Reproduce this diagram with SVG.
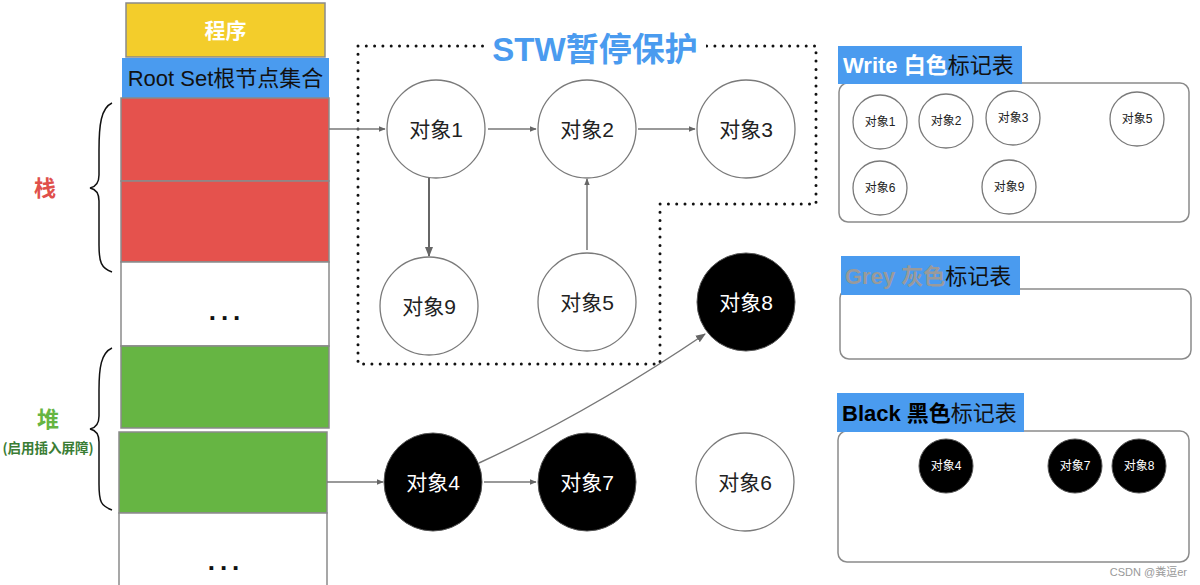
<svg xmlns="http://www.w3.org/2000/svg" width="1200" height="585" viewBox="0 0 1200 585">
<style>
  text{font-family:"Liberation Sans","Noto Sans CJK SC",sans-serif;}
  .cjk{font-family:"Noto Sans CJK SC","Liberation Sans",sans-serif;}
  .blk{stroke:#8a8a8a;stroke-width:1.5;}
  .node{fill:#fff;stroke:#7a7a7a;stroke-width:1.3;}
  .bnode{fill:#000;stroke:#555;stroke-width:1;}
  .lbl{font-size:21px;fill:#222;text-anchor:middle;}
  .wlbl{font-size:21px;fill:#fff;text-anchor:middle;}
  .slbl{font-size:12px;fill:#222;text-anchor:middle;}
  .swlbl{font-size:12px;fill:#fff;text-anchor:middle;}
  .edge{stroke:#777;stroke-width:1.5;fill:none;}
  .hdr{fill:#4a9bef;}
  .tbl{fill:#fff;stroke:#8a8a8a;stroke-width:1.5;}
  .brace{fill:none;stroke:#111;stroke-width:1.5;}
  .dots{font-size:26px;fill:#111;text-anchor:middle;letter-spacing:5px;font-weight:bold;}
</style>
<defs>
  <marker id="ah" viewBox="0 0 10 10" refX="9" refY="5" markerWidth="7" markerHeight="7" orient="auto" markerUnits="userSpaceOnUse">
    <path d="M0,1 L10,5 L0,9 z" fill="#666"/>
  </marker>
  <marker id="ah2" viewBox="0 0 10 10" refX="9" refY="5" markerWidth="10" markerHeight="10" orient="auto" markerUnits="userSpaceOnUse">
    <path d="M0,1 L10,5 L0,9 z" fill="#666"/>
  </marker>
</defs>
<rect width="1200" height="585" fill="#fff"/>

<!-- left column -->
<g id="program">
  <rect x="126" y="3" width="199" height="54" fill="#f3cd2b" class="blk"/>
  <text x="225.5" y="38" class="cjk" font-size="21" font-weight="bold" fill="#fff" text-anchor="middle">程序</text>
</g>
<g id="rootset">
  <rect x="122" y="58" width="207" height="40" fill="#4a9bef"/>
  <text x="225.5" y="86" font-size="22" fill="#111" text-anchor="middle">Root Set根节点集合</text>
</g>
<g id="stack1"><rect x="121" y="98" width="208" height="83" fill="#e5524d" class="blk"/></g>
<g id="stack2"><rect x="121" y="181" width="208" height="81" fill="#e5524d" class="blk"/></g>
<g id="stack3">
  <rect x="121" y="262" width="208" height="84" fill="#fff" class="blk"/>
  <text x="227" y="320" class="dots">...</text>
</g>
<g id="heap1"><rect x="121" y="346" width="208" height="82" fill="#66b543" class="blk"/></g>
<g id="heap2"><rect x="119" y="432" width="208" height="81" fill="#66b543" class="blk"/></g>
<g id="heap3">
  <rect x="119" y="513" width="208" height="80" fill="#fff" class="blk"/>
  <text x="226" y="570" class="dots">...</text>
</g>

<g id="stack-label">
  <path class="brace" d="M112,103 C101,108 99,125 99,150 L99,175 C99,184 95,187 90,188 C95,189 99,192 99,201 L99,245 C99,262 101,268 112,272"/>
  <text x="45" y="196" class="cjk" font-size="22" font-weight="bold" fill="#e0504b" text-anchor="middle">栈</text>
</g>
<g id="heap-label">
  <path class="brace" d="M112,348 C101,353 99,368 99,390 L99,416 C99,425 95,428 90,429 C95,430 99,433 99,442 L99,484 C99,502 101,506 112,510"/>
  <text x="48" y="427" class="cjk" font-size="22" font-weight="bold" fill="#66b543" text-anchor="middle">堆</text>
  <text x="48" y="453" class="cjk" font-size="13.5" font-weight="bold" fill="#3a7d34" text-anchor="middle">(启用插入屏障)</text>
</g>

<!-- STW area -->
<g id="stw">
  <path d="M358,46 L816,46 L816,204 L660,204 L660,364 L358,364 Z" fill="none" stroke="#111" stroke-width="3" stroke-linecap="round" stroke-dasharray="0 8.3"/>
  <rect x="484" y="30" width="222" height="36" fill="#fff"/>
  <text x="595" y="61" class="cjk" font-size="33" font-weight="bold" fill="#4a9bef" text-anchor="middle"><tspan font-family="Liberation Sans">STW</tspan>暂停保护</text>
</g>

<!-- connectors -->
<g id="connectors">
  <line class="edge" x1="329" y1="129" x2="385" y2="129" marker-end="url(#ah)"/>
  <line class="edge" x1="488" y1="129" x2="536" y2="129" marker-end="url(#ah)"/>
  <line class="edge" x1="638" y1="129" x2="695" y2="129" marker-end="url(#ah)"/>
  <line x1="429" y1="175" x2="429" y2="256" stroke="#666" stroke-width="2" marker-end="url(#ah2)"/>
  <line class="edge" x1="587" y1="250" x2="587" y2="179" marker-end="url(#ah)"/>
  <line class="edge" x1="327" y1="482" x2="383" y2="482" marker-end="url(#ah)"/>
  <line class="edge" x1="484" y1="482" x2="536" y2="482" marker-end="url(#ah)"/>
  <path class="edge" d="M479,463 Q590,412 705,334" marker-end="url(#ah2)"/>
</g>

<!-- nodes -->
<g id="obj1"><circle cx="436" cy="129" r="49" class="node"/><text x="436" y="137" class="lbl">对象1</text></g>
<g id="obj2"><circle cx="587" cy="129" r="49" class="node"/><text x="587" y="137" class="lbl">对象2</text></g>
<g id="obj3"><circle cx="746" cy="129" r="49" class="node"/><text x="746" y="137" class="lbl">对象3</text></g>
<g id="obj9"><circle cx="429" cy="306" r="49" class="node"/><text x="429" y="314" class="lbl">对象9</text></g>
<g id="obj5"><circle cx="587" cy="302" r="49" class="node"/><text x="587" y="310" class="lbl">对象5</text></g>
<g id="obj8"><circle cx="746" cy="302" r="49" class="bnode"/><text x="746" y="310" class="wlbl">对象8</text></g>
<g id="obj4"><circle cx="433" cy="482" r="49" class="bnode"/><text x="433" y="490" class="wlbl">对象4</text></g>
<g id="obj7"><circle cx="587" cy="482" r="49" class="bnode"/><text x="587" y="490" class="wlbl">对象7</text></g>
<g id="obj6"><circle cx="745" cy="482" r="49" class="node"/><text x="745" y="490" class="lbl">对象6</text></g>

<!-- white table -->
<g id="white-table">
  <rect x="839" y="83" width="350" height="139" rx="9" class="tbl"/>
  <rect x="838" y="46" width="184" height="38" class="hdr"/>
  <text x="843" y="73" font-size="22"><tspan font-weight="bold" fill="#fff">Write </tspan><tspan class="cjk" font-weight="bold" fill="#fff">白色</tspan><tspan class="cjk" fill="#111">标记表</tspan></text>
  <g id="w1"><circle cx="880" cy="122" r="27" class="node"/><text x="880" y="126" class="slbl">对象1</text></g>
  <g id="w2"><circle cx="946" cy="121" r="27" class="node"/><text x="946" y="125" class="slbl">对象2</text></g>
  <g id="w3"><circle cx="1013" cy="118" r="27" class="node"/><text x="1013" y="122" class="slbl">对象3</text></g>
  <g id="w5"><circle cx="1137" cy="119" r="27" class="node"/><text x="1137" y="123" class="slbl">对象5</text></g>
  <g id="w6"><circle cx="880" cy="188" r="27" class="node"/><text x="880" y="192" class="slbl">对象6</text></g>
  <g id="w9"><circle cx="1009" cy="187" r="27" class="node"/><text x="1009" y="191" class="slbl">对象9</text></g>
</g>

<!-- grey table -->
<g id="grey-table">
  <rect x="840" y="289" width="351" height="70" rx="9" class="tbl"/>
  <rect x="841" y="256" width="179" height="39" class="hdr"/>
  <text x="845" y="284" font-size="22"><tspan font-weight="bold" fill="#9a9a9a">Grey </tspan><tspan class="cjk" font-weight="bold" fill="#9a9a9a">灰色</tspan><tspan class="cjk" fill="#111">标记表</tspan></text>
</g>

<!-- black table -->
<g id="black-table">
  <rect x="838" y="431" width="351" height="131" rx="9" class="tbl"/>
  <rect x="837" y="393" width="187" height="39" class="hdr"/>
  <text x="842" y="421" font-size="22"><tspan font-weight="bold" fill="#000">Black </tspan><tspan class="cjk" font-weight="bold" fill="#000">黑色</tspan><tspan class="cjk" fill="#111">标记表</tspan></text>
  <g id="b4"><circle cx="946" cy="466" r="27" class="bnode"/><text x="946" y="470" class="swlbl">对象4</text></g>
  <g id="b7"><circle cx="1075" cy="466" r="27" class="bnode"/><text x="1075" y="470" class="swlbl">对象7</text></g>
  <g id="b8"><circle cx="1139" cy="466" r="27" class="bnode"/><text x="1139" y="470" class="swlbl">对象8</text></g>
</g>

<text x="1187" y="576" font-size="11" fill="#999" text-anchor="end">CSDN @粪逗er</text>
</svg>
